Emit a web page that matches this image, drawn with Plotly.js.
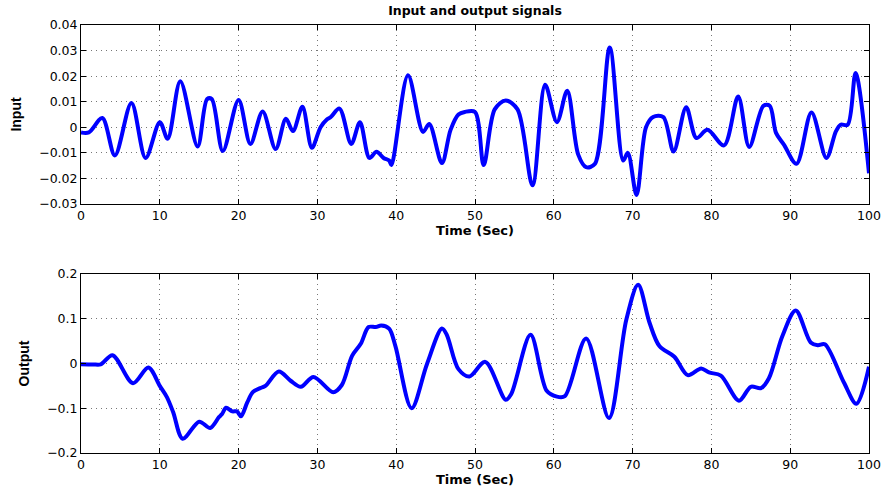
<!DOCTYPE html>
<html><head><meta charset="utf-8">
<script src="https://cdn.plot.ly/plotly-3.0.1.min.js"></script>
<style>html,body{margin:0;padding:0;background:#fff}#chart{width:885px;height:489px}</style>
</head><body><div id="chart"></div>
<script>
// Input signal
const tIn = [0, 1.0, 2.7, 4.3, 6.4, 8.2, 10.0, 11.0, 12.6, 14.8, 16.0, 16.6, 18.0, 20.0, 21.5, 23.05, 24.7, 26.0, 26.9, 28.1, 29.3, 30.4, 31.2, 31.7, 32.8, 34.3, 35.4, 36.6, 37.5, 38.4, 39.1, 39.4, 41.5, 43.4, 44.2, 45.8, 46.9, 47.9, 48.7, 50.0, 51.1, 52.5, 53.9, 55.4, 57.3, 58.9, 60.4, 61.7, 63.1, 64.1, 65.2, 67.1, 68.8, 69.4, 70.5, 71.7, 72.6, 73.9, 75.2, 76.8, 78.1, 79.5, 81.6, 83.4, 84.8, 86.6, 87.4, 88.2, 89.2, 90.8, 92.7, 94.6, 95.8, 96.4, 97.3, 98.3, 100];
const vIn = [-0.002, -0.002, 0.0036, -0.011, 0.0095, -0.012, 0.002, -0.0045, 0.018, -0.0075, 0.011, 0.011, -0.0093, 0.0107, -0.0065, 0.0062, -0.0085, 0.0033, -0.0015, 0.008, -0.008, 0, 0.003, 0.004, 0.0073, -0.0065, 0.002, -0.012, -0.0096, -0.012, -0.013, -0.0148, 0.0203, -0.0018, 0.0013, -0.014, -0.001, 0.005, 0.006, 0.006, -0.0148, 0.007, 0.0105, 0.007, -0.0227, 0.0166, 0.002, 0.0143, -0.0107, -0.0156, -0.0144, 0.0312, -0.013, -0.01, -0.0265, 0, 0.004, 0.004, -0.0095, 0.0078, -0.0042, -0.001, -0.0071, 0.012, -0.0077, 0.0084, 0.0084, -0.0022, -0.0068, -0.0143, 0.0058, -0.012, -0.0016, 0.001, 0.001, 0.0212, -0.018];
// Output signal
const tOut = [0, 1.5, 2.5, 4.0, 6.6, 8.55, 10.0, 10.9, 11.7, 12.9, 15.0, 16.4, 17.5, 17.9, 18.4, 19.2, 19.8, 20.3, 21.1, 21.8, 22.75, 23.4, 25.1, 26.6, 27.9, 29.5, 32.0, 33.1, 34.4, 35.5, 36.5, 37.4, 38.1, 39.1, 39.9, 41.95, 43.9, 45.8, 46.4, 47.9, 49.3, 51.3, 53.9, 54.6, 57.05, 59.1, 60.4, 61.4, 64.1, 67.0, 69.2, 70.7, 72.15, 73.4, 75.3, 77.0, 78.7, 79.7, 81.2, 83.5, 85.0, 86.3, 87.3, 89.0, 90.7, 92.6, 93.5, 94.4, 96.8, 98.4, 100];
const vOut = [-0.0015, -0.002, -0.002, 0.0185, -0.044, -0.009, -0.05, -0.075, -0.109, -0.168, -0.13, -0.144, -0.12, -0.113, -0.099, -0.107, -0.107, -0.118, -0.087, -0.064, -0.055, -0.05, -0.018, -0.0385, -0.052, -0.03, -0.064, -0.048, 0.017, 0.044, 0.0815, 0.0815, 0.085, 0.078, 0.039, -0.1, -0.0015, 0.078, 0.065, -0.0126, -0.029, 0.0037, -0.081, -0.068, 0.064, -0.061, -0.074, -0.073, 0.056, -0.122, 0.098, 0.176, 0.091, 0.039, 0.015, -0.026, -0.011, -0.02, -0.027, -0.083, -0.052, -0.055, -0.033, 0.061, 0.1185, 0.047, 0.041, 0.043, -0.042, -0.09, -0.007];
const xTicks = [0,10,20,30,40,50,60,70,80,90,100];
const yTicksIn = [-0.03,-0.02,-0.01,0,0.01,0.02,0.03,0.04];
const yTicksOut = [-0.2,-0.1,0,0.1,0.2];

const tickFont = {family:'DejaVu Sans, Arial, sans-serif', size:12.5, color:'#000'};
const boldFont = {family:'DejaVu Sans, Arial, sans-serif', size:13, color:'#000', weight:'bold'};
const yLabFont = {family:'Liberation Sans Narrow, Liberation Sans, Arial, sans-serif', size:14, color:'#000', weight:'bold'};

function xAxis(anchor){
  return {range:[0,100], tickvals:xTicks, ticks:'inside', ticklen:5, tickcolor:'#000',
    showline:true, linecolor:'#000', linewidth:1, mirror:'ticks', showgrid:true,
    gridcolor:'#777', griddash:'1px,4px', gridwidth:1, zeroline:false, tickfont:tickFont,
    anchor:anchor, title:{text:'<b>Time (Sec)</b>', font:boldFont, standoff:2}};
}
function yAxis(range, ticks, label, dom, anchor){
  return {range:range, tickvals:ticks, ticks:'inside', ticklen:5, tickcolor:'#000',
    showline:true, linecolor:'#000', linewidth:1, mirror:'ticks', showgrid:true,
    gridcolor:'#777', griddash:'1px,4px', gridwidth:1, zeroline:false, tickfont:tickFont,
    domain:dom, anchor:anchor, title:{text:'<b>'+label+'</b>', font:yLabFont, standoff:14}};
}

const traces = [
  {x:tIn, y:vIn, xaxis:'x', yaxis:'y', mode:'lines', line:{color:'#0000ff', width:4, shape:'spline', smoothing:0.9}, hoverinfo:'skip'},
  {x:tOut, y:vOut, xaxis:'x2', yaxis:'y2', mode:'lines', line:{color:'#0000ff', width:4, shape:'spline', smoothing:0.9}, hoverinfo:'skip'}
];
const layout = {
  width:885, height:489, paper_bgcolor:'#fff', plot_bgcolor:'#fff', showlegend:false,
  margin:{l:81, r:16, t:25, b:36},
  title:{text:'<b>Input and output signals</b>', font:{family:'DejaVu Sans, Arial, sans-serif', size:12.5, color:'#000'},
    x:0.5, xref:'paper', xanchor:'center', y:1-11/489, yref:'container', yanchor:'middle'},
  xaxis: xAxis('y'),
  yaxis: yAxis([-0.03,0.04], yTicksIn, 'Input', [0.5818,1], 'x'),
  xaxis2: xAxis('y2'),
  yaxis2: yAxis([-0.2,0.2], yTicksOut, 'Output', [0,0.4182], 'x2')
};
Plotly.newPlot('chart', traces, layout, {staticPlot:true, displayModeBar:false});
</script></body></html>
